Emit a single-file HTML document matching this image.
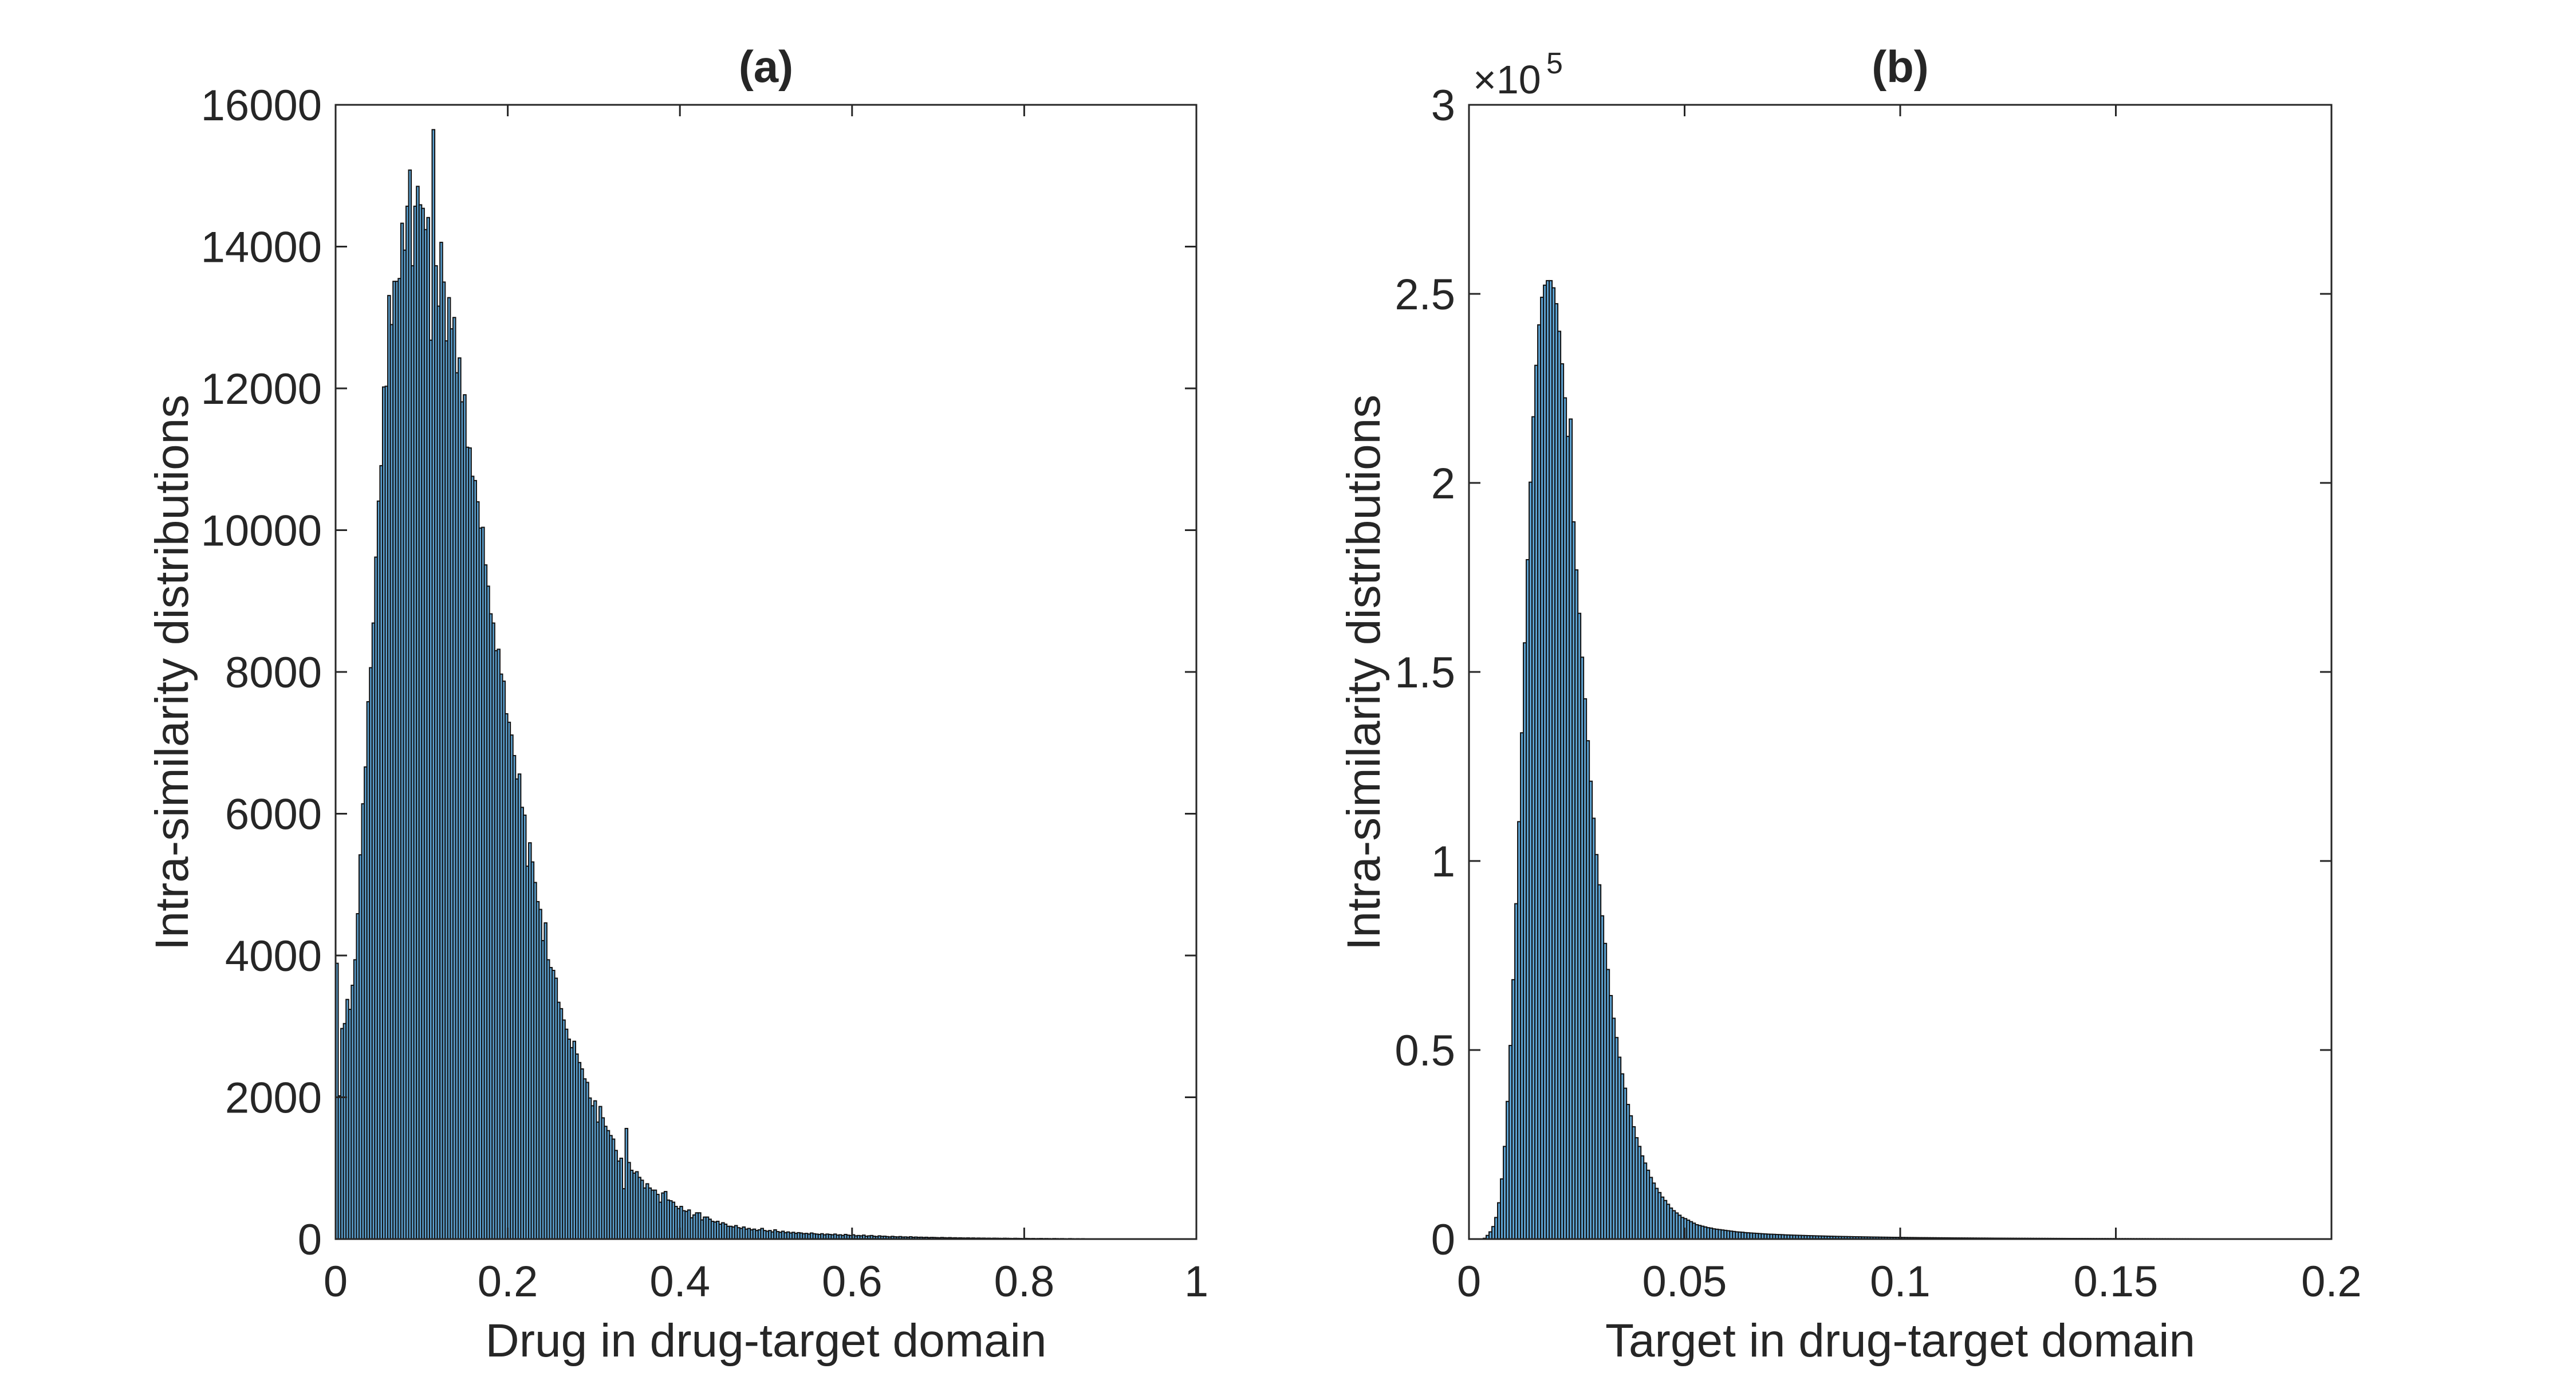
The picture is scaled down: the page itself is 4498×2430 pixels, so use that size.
<!DOCTYPE html>
<html><head><meta charset="utf-8"><style>
html,body{margin:0;padding:0;background:#fff;}
svg{display:block;}
text{font-family:"Liberation Sans",Arial,sans-serif;fill:#262626;}
</style></head><body>
<svg id="fig" width="4498" height="2430" viewBox="0 0 4498 2430" xmlns="http://www.w3.org/2000/svg">
<rect width="4498" height="2430" fill="#fff"/>
<g id="pa"></g>
<g id="pb"></g>
</svg>
<script>
// ---- Panel (a) data ----
const aXTicks = [0, 0.2, 0.4, 0.6, 0.8, 1];
const aXTickLabels = ["0", "0.2", "0.4", "0.6", "0.8", "1"];
const aYTicks = [0, 2000, 4000, 6000, 8000, 10000, 12000, 14000, 16000];
const aYTickLabels = ["0", "2000", "4000", "6000", "8000", "10000", "12000", "14000", "16000"];
const aBinStart = 0;
const aBinEnd = 1;
const aCounts = [3890,2020,2970,3040,3380,3240,3580,3940,4590,5420,6140,6660,7580,8060,8690,9620,10410,10910,12020,12030,
13310,12900,13510,13510,13550,14330,13950,14570,15080,13730,14570,14850,14590,14540,14240,14410,12680,15650,13730,13160,
14060,13500,12670,13280,12840,13000,12220,12430,11810,11910,11170,11160,10760,10700,10400,10030,10040,9510,9210,8820,
8690,8300,8320,7970,7870,7410,7290,7110,6820,6490,6560,6090,5980,5260,5590,5320,5030,4760,4650,4210,
4460,3940,3830,3790,3680,3340,3250,3090,2960,2820,2700,2790,2610,2490,2400,2260,2210,1990,1880,1950,
1650,1870,1710,1590,1530,1460,1410,1250,1100,1140,710,1560,1080,970,930,950,870,830,720,780,
720,690,690,630,520,650,670,550,540,520,460,430,460,400,390,410,300,340,370,370,
270,310,310,280,250,240,250,210,230,210,180,
180,170,190,160,150,170,140,150,130,140,120,130,150,120,
110,120,100,130,105,95,110,90,100,85,95,80,90,85,75,80,70,85,75,70,65,75,60,70,65,60,70,55,60,50,65,55,50,60,45,
50,45,55,40,45,50,40,35,45,38,40,35,30,38,32,30,35,28,30,26,32,25,28,24,26,22,25,20,23,22,20,18,22,19,17,20,16,18,15,17,
15,14,16,13,15,12,14,12,13,11,12,10,12,11,10,9,11,10,9,8,10,9,8,7,9,8,7,8,6,7,8,6,7,6,5,7,6,5,6,5,4,6,5,4,5,4,5,4,3,4,
4,3,4,3,3,4,3,2,3,3,2,3,2,3,2,2,3,2,2,3,2,2,1,2,2,1,2,2,1,2,1,2,1,1,2,1,1,2,1,1];

// ---- Panel (b) data ----
const bXTicks = [0, 0.05, 0.1, 0.15, 0.2];
const bXTickLabels = ["0", "0.05", "0.1", "0.15", "0.2"];
const bYTicks = [0, 50000, 100000, 150000, 200000, 250000, 300000];
const bYTickLabels = ["0", "0.5", "1", "1.5", "2", "2.5", "3"];
const bBinStart = 0;
const bBinEnd = 0.2;
const bCounts = [0,0,0,0,30,200,960,1900,3300,5700,9600,15900,24500,36400,51200,68600,88700,110400,133900,157700,
179700,200200,217500,231100,241800,249100,252300,253500,253500,251600,247400,240100,231500,222500,212300,216900,189700,177000,165500,153900,
142900,131800,121100,111300,101700,93700,85500,78200,71300,64400,58400,53300,48100,43700,39900,35600,32600,29700,26800,24500,
22000,20100,18200,16300,14800,13400,12300,11100,10200,9200,8200,7500,6900,6300,5700,5400,5000,4600,4200,3800,
3600,3400,3200,3000,2900,2700,2600,2500,2400,2300,2200,2100,2000,1900,1850,1800,1700,1650,1600,1550,1500,
1450,1400,1350,1300,1280,1250,1200,1180,1150,1100,1080,1050,1020,1000,980,950,930,900,880,860,
840,820,800,780,760,740,720,700,690,670,660,640,630,610,600,590,570,560,550,540,
530,520,500,490,480,470,460,450,440,430,
420,410,400,395,390,380,370,365,360,350,345,340,330,325,320,315,310,300,295,290,
285,280,275,270,265,260,255,250,248,245,240,235,230,228,225,220,215,212,210,205,
200,198,195,192,190,186,182,180,178,175,172,170,168,165,162,160,158,155,152,150,
148,146,144,142,140,138,136,134,132,130,128,126,124,122,120,118,117,116,114,112,
110,108,107,106,104,102,100,99,98,96,95,94,92,91,90,89,88,86,85,84,
83,82,81,80,79,78,77,76,75,74,73,72,71,70,69,68,67,66,65,64,
63,62,61,60,59,58,57,56,55,54,53,52,51,50,49,48,47,46,45,44,
43,42,41,40,39,38,37,36,35,34];

const NS = "http://www.w3.org/2000/svg";
function mk(tag, attrs, parent) {
  const e = document.createElementNS(NS, tag);
  for (const k in attrs) e.setAttribute(k, attrs[k]);
  parent.appendChild(e);
  return e;
}

function drawPanel(g, cfg) {
  const L = cfg.left, R = cfg.right, T = 183, B = 2163;
  const xs = v => L + (v - cfg.xmin) / (cfg.xmax - cfg.xmin) * (R - L);
  const ys = v => B - (v - cfg.ymin) / (cfg.ymax - cfg.ymin) * (B - T);
  const n = cfg.counts.length;
  const w = (cfg.binEnd - cfg.binStart) / n;
  const bars = mk("g", {}, g);
  
  
  for (let i = 0; i < n; i++) {
    const x0 = xs(cfg.binStart + i * w), x1 = xs(cfg.binStart + (i + 1) * w);
    const y0 = ys(cfg.counts[i]);
    const r = mk("rect", {x: x0, y: y0, width: Math.max(0.1, x1 - x0), height: Math.max(0, B - y0),
      fill: "#5da3d3", stroke: "#111", "stroke-width": 2.0}, bars);
    
    
  }
  const box = mk("rect", {x: L, y: T, width: R - L, height: B - T, fill: "none", stroke: "#262626", "stroke-width": 3}, g);
  
  
  cfg.xTicks.forEach((v, i) => {
    const x = xs(v);
    mk("line", {x1: x, y1: B, x2: x, y2: B - 20, stroke: "#262626", "stroke-width": 3}, g);
    mk("line", {x1: x, y1: T, x2: x, y2: T + 20, stroke: "#262626", "stroke-width": 3}, g);
    const t = mk("text", {x: x, y: 2263, "font-size": 76, "text-anchor": "middle"}, g);
    t.textContent = cfg.xLabels[i];
    
    
  });
  cfg.yTicks.forEach((v, i) => {
    const y = ys(v);
    mk("line", {x1: L, y1: y, x2: L + 20, y2: y, stroke: "#262626", "stroke-width": 3}, g);
    mk("line", {x1: R, y1: y, x2: R - 20, y2: y, stroke: "#262626", "stroke-width": 3}, g);
    const t = mk("text", {x: L - 24, y: y + 27, "font-size": 76, "text-anchor": "end"}, g);
    t.textContent = cfg.yLabels[i];
    
    
  });
  const xl = mk("text", {x: (L + R) / 2, y: 2368, "font-size": 82, "text-anchor": "middle"}, g);
  xl.textContent = cfg.xTitle;
  
  
  const yx = cfg.yTitleX;
  const yl = mk("text", {x: yx, y: 1174, "font-size": 82, "text-anchor": "middle", transform: "rotate(-90 " + yx + " 1174)"}, g);
  yl.textContent = "Intra-similarity distributions";
  
  
  const tt = mk("text", {x: (L + R) / 2, y: 143, "font-size": 78, "font-weight": "bold", "text-anchor": "middle"}, g);
  tt.textContent = cfg.title;
  
  
}

drawPanel(document.getElementById("pa"), {
  left: 586, right: 2089, xmin: 0, xmax: 1, ymin: 0, ymax: 16000,
  counts: aCounts, binStart: aBinStart, binEnd: aBinEnd,
  xTicks: aXTicks, xLabels: aXTickLabels, yTicks: aYTicks, yLabels: aYTickLabels,
  xTitle: "Drug in drug-target domain", yTitleX: 328, title: "(a)"
});
drawPanel(document.getElementById("pb"), {
  left: 2565, right: 4071, xmin: 0, xmax: 0.2, ymin: 0, ymax: 300000,
  counts: bCounts, binStart: bBinStart, binEnd: bBinEnd,
  xTicks: bXTicks, xLabels: bXTickLabels, yTicks: bYTicks, yLabels: bYTickLabels,
  xTitle: "Target in drug-target domain", yTitleX: 2409, title: "(b)"
});
const pb = document.getElementById("pb");
const ex = mk("text", {x: 2572, y: 163, "font-size": 70}, pb);
ex.textContent = "\u00d710";


const ex5 = mk("text", {x: 2700, y: 128, "font-size": 52}, pb);
ex5.textContent = "5";


</script>
</body></html>
